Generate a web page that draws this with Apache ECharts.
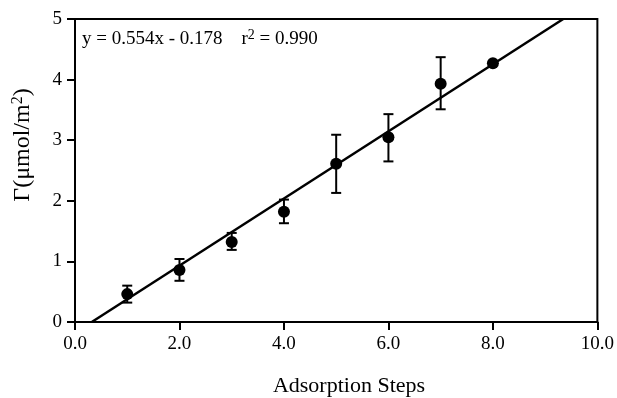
<!DOCTYPE html>
<html>
<head>
<meta charset="utf-8">
<script src="https://cdn.jsdelivr.net/npm/echarts@6/dist/echarts.min.js"></script>
<style>
  html, body { margin: 0; padding: 0; background: #fff; }
  #chart { width: 617px; height: 398px; }
</style>
</head>
<body>
<div id="chart"></div>
<script>
// adsorption step vs surface excess, with error bars
const steps = [1, 2, 3, 4, 5, 6, 7, 8]
const gammaMean = [0.46, 0.86, 1.32, 1.82, 2.61, 3.05, 3.93, 4.27]
const gammaLow = [0.32, 0.68, 1.19, 1.63, 2.13, 2.65, 3.51, 4.27]
const gammaHigh = [0.60, 1.04, 1.47, 2.02, 3.09, 3.43, 4.37, 4.27]

// linear fit y = 0.554x - 0.178
const fitSlope = 0.554
const fitIntercept = -0.178
const fitX = [(0 - fitIntercept) / fitSlope, (5 - fitIntercept) / fitSlope]

const xTicks = [0, 2, 4, 6, 8, 10]
const yTicks = [0, 1, 2, 3, 4, 5]

const font = "Liberation Serif"

const chart = echarts.init(document.getElementById("chart"))

const pointData = steps.map((x, i) => [x, gammaMean[i]])
const errData = steps.map((x, i) => [x, gammaLow[i], gammaHigh[i]])
const fitData = fitX.map((x) => [x, fitSlope * x + fitIntercept])

chart.setOption({
  backgroundColor: "#fff",
  animation: false,
  grid: {
    left: 75, right: 19, top: 19, bottom: 76,
    show: true, borderColor: "#000", borderWidth: 2,
  },
  xAxis: {
    type: "value",
    min: xTicks[0], max: xTicks[xTicks.length - 1], interval: 2,
    axisLine: { lineStyle: { color: "#000", width: 2 } },
    axisTick: { show: true, length: 8, lineStyle: { color: "#000", width: 2 } },
    axisLabel: {
      fontFamily: font, fontSize: 19, color: "#000", margin: 13,
      formatter: (v) => v.toFixed(1),
    },
    splitLine: { show: false },
  },
  yAxis: {
    type: "value",
    min: yTicks[0], max: yTicks[yTicks.length - 1], interval: 1,
    axisLine: { lineStyle: { color: "#000", width: 2 } },
    axisTick: { show: true, length: 8, lineStyle: { color: "#000", width: 2 } },
    axisLabel: { fontFamily: font, fontSize: 19, color: "#000", margin: 13, padding: [8, 0, 0, 0] },
    splitLine: { show: false },
  },
  graphic: [
    {
      type: "text",
      left: 82, top: 28,
      style: {
        text: "y = 0.554x - 0.178    r{s|2} = 0.990",
        font: "19px " + font,
        fill: "#000",
        rich: {
          s: { font: "14px " + font, fill: "#000", verticalAlign: "top", padding: [0, 0, 9, 0] },
        },
      },
    },
    {
      type: "text",
      x: 349, y: 386,
      style: {
        text: "Adsorption Steps",
        font: "22px " + font,
        fill: "#000",
        align: "center",
        verticalAlign: "middle",
      },
    },
    {
      type: "text",
      x: 23, y: 145,
      rotation: Math.PI / 2,
      style: {
        text: "Γ(μmol/m{s|2})",
        font: "24px " + font,
        fill: "#000",
        align: "center",
        verticalAlign: "middle",
        rich: {
          s: { font: "16px " + font, fill: "#000", verticalAlign: "top", padding: [0, 0, 10, 0] },
        },
      },
    },
  ],
  series: [
    {
      type: "line",
      data: fitData,
      symbol: "none",
      lineStyle: { color: "#000", width: 2.5 },
      clip: true,
      z: 2,
    },
    {
      type: "custom",
      data: errData,
      renderItem: (params, api) => {
        const x = api.value(0)
        const lo = api.coord([x, api.value(1)])
        const hi = api.coord([x, api.value(2)])
        const cap = 5
        const st = { stroke: "#000", lineWidth: 2 }
        return {
          type: "group",
          children: [
            { type: "line", shape: { x1: lo[0], y1: lo[1], x2: hi[0], y2: hi[1] }, style: st },
            { type: "line", shape: { x1: lo[0] - cap, y1: lo[1], x2: lo[0] + cap, y2: lo[1] }, style: st },
            { type: "line", shape: { x1: hi[0] - cap, y1: hi[1], x2: hi[0] + cap, y2: hi[1] }, style: st },
          ],
        }
      },
      z: 3,
    },
    {
      type: "scatter",
      data: pointData,
      symbol: "circle",
      symbolSize: 12,
      itemStyle: { color: "#000", opacity: 1 },
      z: 4,
    },
  ],
})
</script>
</body>
</html>
